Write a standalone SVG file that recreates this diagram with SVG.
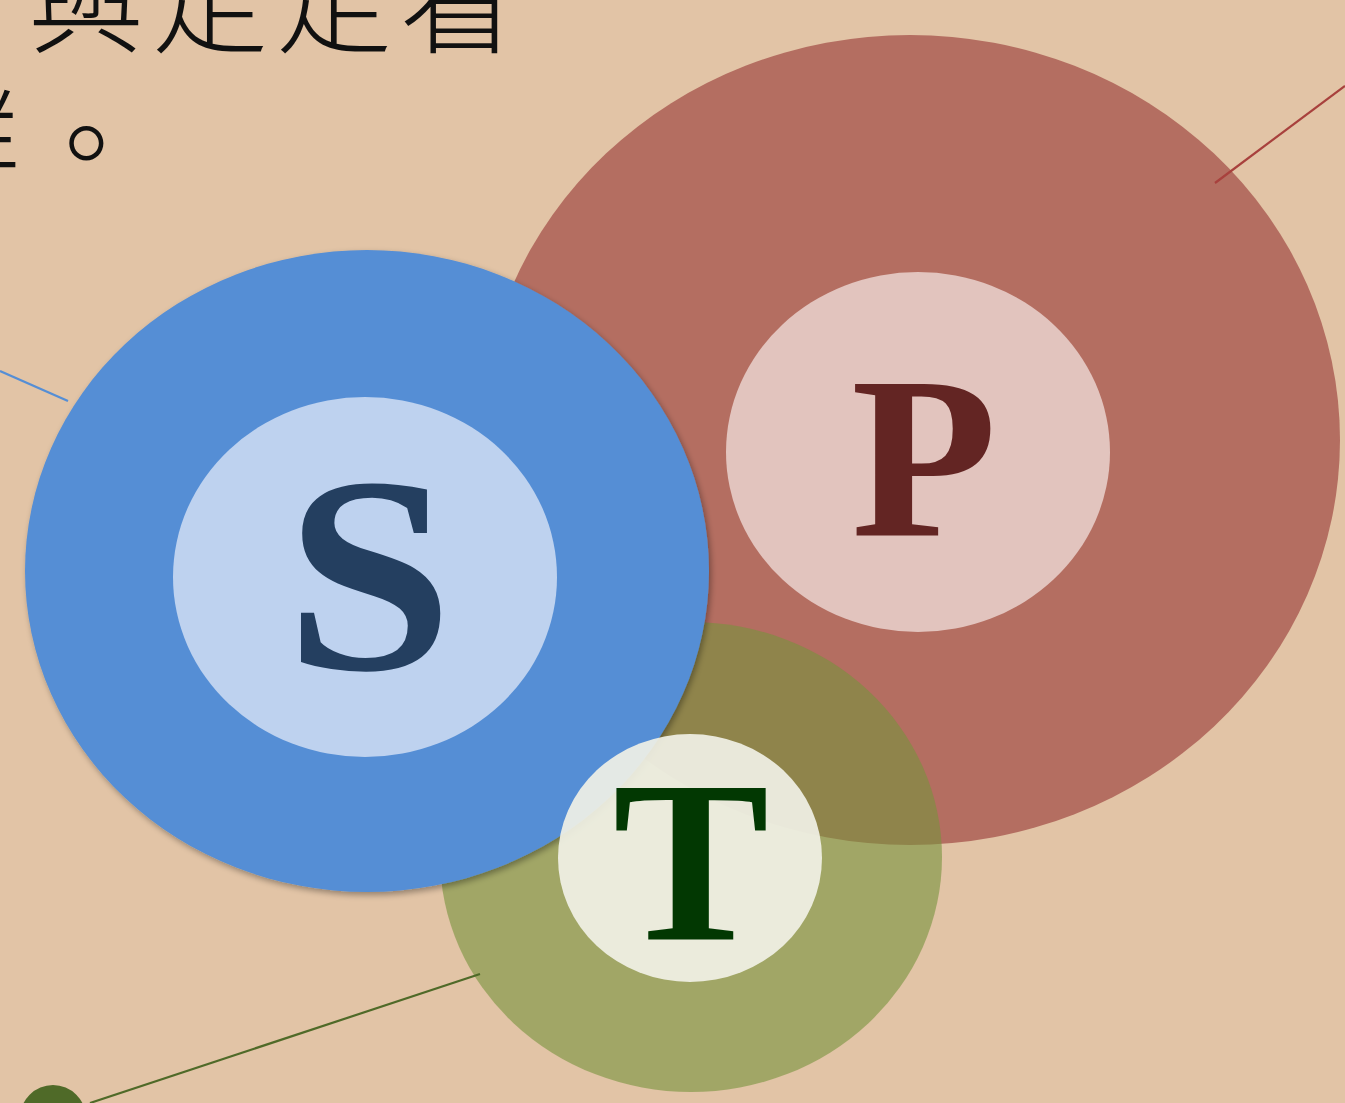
<svg xmlns="http://www.w3.org/2000/svg" width="1345" height="1103" viewBox="0 0 1345 1103">
<defs>
<style>
.cjk{font-family:"Noto Sans CJK TC","Noto Sans CJK SC",sans-serif;font-size:116px;font-weight:300;fill:#111;letter-spacing:8px}
.letter{font-family:"Liberation Serif","Times New Roman",serif;font-weight:bold;text-anchor:middle}
.conn{fill:none;stroke-width:2.2}
</style>
<filter id="sh" x="-10%" y="-10%" width="120%" height="120%">
<feGaussianBlur in="SourceAlpha" stdDeviation="3"/>
<feOffset dx="2" dy="3" result="b"/>
<feComponentTransfer><feFuncA type="linear" slope="0.35"/></feComponentTransfer>
<feMerge><feMergeNode/><feMergeNode in="SourceGraphic"/></feMerge>
</filter>
</defs>
<rect width="1345" height="1103" fill="#E2C4A6"/>
<g id="heading">
<text class="cjk" x="-96" y="44">可與走走看</text>
<text class="cjk" x="-96" y="187">群。</text>
</g>
<g id="node-P">
<ellipse cx="910" cy="440" rx="430" ry="405" fill="#B46E61"/>
<ellipse cx="918" cy="452" rx="192" ry="180" fill="#E2C4BE"/>
</g>
<g id="node-T-ring">
<ellipse cx="691" cy="857" rx="251" ry="235" fill="#76923C" opacity="0.6"/>
</g>
<g id="node-S">
<ellipse cx="367" cy="571" rx="342" ry="321" fill="#558ED5" filter="url(#sh)"/>
<ellipse cx="365" cy="577" rx="192" ry="180" fill="#BED2EF"/>
<text class="letter" transform="translate(369,669) scale(1.08,1)" font-size="280" fill="#243F60">S</text>
</g>
<g id="node-T">
<ellipse cx="690" cy="858" rx="132" ry="124" fill="#F1F1E6" opacity="0.92"/>
<text class="letter" transform="translate(691,940) scale(1.02,1)" font-size="230" fill="#023802">T</text>
</g>
<g id="node-P-label">
<text class="letter" transform="translate(924,535) scale(1.04,1)" font-size="230" fill="#632523">P</text>
</g>
<g id="connectors">
<line class="conn" x1="0" y1="371" x2="68" y2="401" stroke="#558ED5"/>
<line class="conn" x1="1345" y1="86" x2="1215" y2="183" stroke="#A8413D"/>
<line class="conn" x1="90" y1="1103" x2="480" y2="974" stroke="#4F6A28"/>
<circle cx="53" cy="1118" r="33" fill="#4F6A28"/>
</g>
</svg>
